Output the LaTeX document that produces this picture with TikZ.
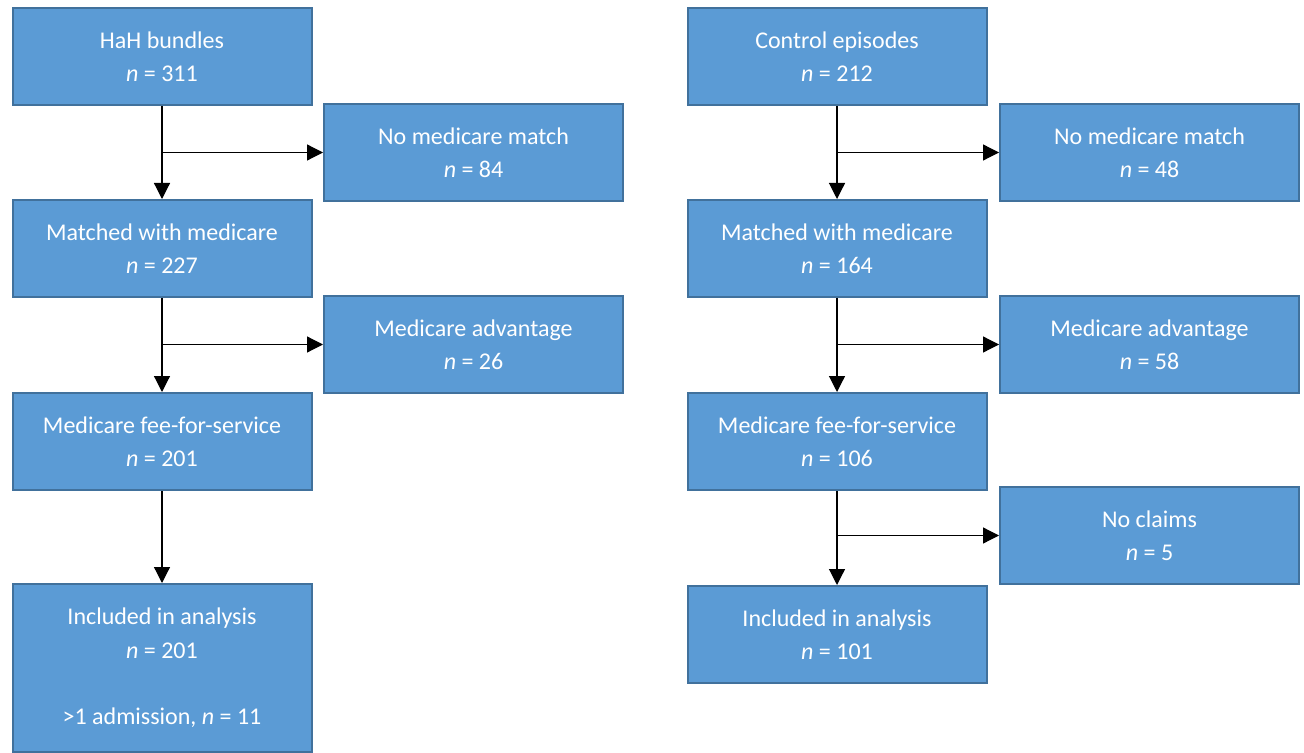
\documentclass[tikz,border=0pt]{standalone}
\usepackage{fontspec}
\setmainfont{Carlito}
\usetikzlibrary{arrows.meta}

\definecolor{boxfill}{HTML}{5B9BD5}
\definecolor{boxline}{HTML}{41719C}

\tikzset{
  box/.style={draw=boxline, line width=1pt, fill=boxfill, text=white,
    align=center, minimum width=149.5pt, minimum height=48.5pt,
    inner sep=0pt, font=\fontsize{12}{16.7}\selectfont},
  arr/.style={draw=black, line width=0.6pt,
    -{Triangle[length=8pt,width=8pt]}}
}

\begin{document}
\begin{tikzpicture}[x=0.5pt,y=-0.5pt]
    \useasboundingbox (0,0) rectangle (1304,753);
    % left column
    \node[box] (hah) at (162,56.5) {HaH bundles\\\textit{n} = 311};
    \node[box] (hahnomatch) at (473.5,152.5) {No medicare match\\\textit{n} = 84};
    \node[box] (hahmatch) at (162,248.5) {Matched with medicare\\\textit{n} = 227};
    \node[box] (hahadv) at (473.5,344.5) {Medicare advantage\\\textit{n} = 26};
    \node[box] (hahffs) at (162,441.5) {Medicare fee-for-service\\\textit{n} = 201};
    \node[box, minimum height=84pt] (hahinc) at (162,668)
      {Included in analysis\\\textit{n} = 201\\[16.7pt]>1 admission, \textit{n} = 11};
    % right column
    \node[box] (ctl) at (837,56.5) {Control episodes\\\textit{n} = 212};
    \node[box] (ctlnomatch) at (1149.5,152.5) {No medicare match\\\textit{n} = 48};
    \node[box] (ctlmatch) at (837,248.5) {Matched with medicare\\\textit{n} = 164};
    \node[box] (ctladv) at (1149.5,344.5) {Medicare advantage\\\textit{n} = 58};
    \node[box] (ctlffs) at (837,441.5) {Medicare fee-for-service\\\textit{n} = 106};
    \node[box] (ctlnoclaims) at (1149.5,535.5) {No claims\\\textit{n} = 5};
    \node[box] (ctlinc) at (837,634.5) {Included in analysis\\\textit{n} = 101};
    % connectors, left
    \draw[arr] (hah.south) -- (hahmatch.north);
    \draw[arr] (hah.south |- hahnomatch.west) -- (hahnomatch.west);
    \draw[arr] (hahmatch.south) -- (hahffs.north);
    \draw[arr] (hahmatch.south |- hahadv.west) -- (hahadv.west);
    \draw[arr] (hahffs.south) -- (hahinc.north);
    % connectors, right
    \draw[arr] (ctl.south) -- (ctlmatch.north);
    \draw[arr] (ctl.south |- ctlnomatch.west) -- (ctlnomatch.west);
    \draw[arr] (ctlmatch.south) -- (ctlffs.north);
    \draw[arr] (ctlmatch.south |- ctladv.west) -- (ctladv.west);
    \draw[arr] (ctlffs.south) -- (ctlinc.north);
    \draw[arr] (ctlffs.south |- ctlnoclaims.west) -- (ctlnoclaims.west);
\end{tikzpicture}
\end{document}
